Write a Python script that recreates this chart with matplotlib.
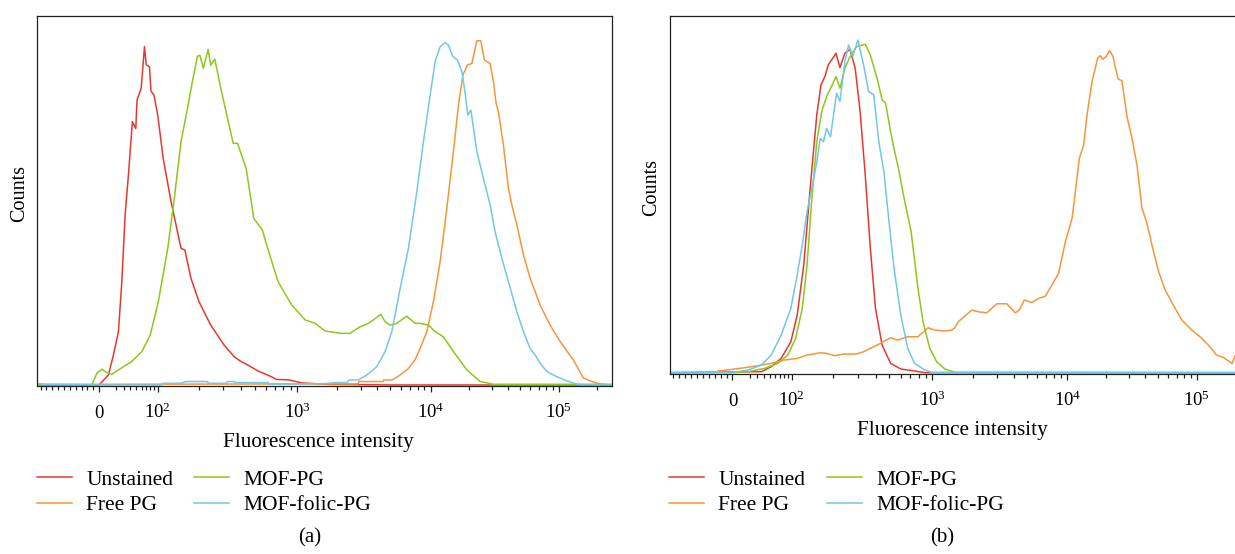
import numpy as np
import matplotlib
matplotlib.use("Agg")
import matplotlib.pyplot as plt
from matplotlib.lines import Line2D

plt.rcParams["font.family"] = ["Liberation Serif", "DejaVu Serif"]
plt.rcParams["mathtext.fontset"] = "stix"

# DATA (fluorescence intensity vs. counts, normalised so the tallest peak is ~100)
series_names = ["Unstained", "Free PG", "MOF-PG", "MOF-folic-PG"]
series_colors = ["#e5392f", "#f7953b", "#8cc81e", "#72c7e8"]

# panel (a)
a_unstained_x = [-106, 0, 1, 10.6, 16.5, 22.8, 27.3, 31.9, 36.8, 43.1, 48.9, 51.2, 59.1, 66, 69.7, 77.6, 81.2, 89.2,
                 100, 110, 126, 149, 159, 176, 201, 244, 304, 359, 401, 448, 527, 658, 714, 866, 1084, 1622,
                 5000, 262144]
a_unstained_y = [0, 0, 0.3, 2.9, 8.7, 15.5, 30, 49.4, 61, 76.5, 74.5, 82.8, 86.2, 98.3, 93.1, 92.4, 85.4, 84.2,
                 78.4, 65.8, 53.2, 39.7, 39.2, 31, 24.2, 17.4, 11.6, 8.2, 6.8, 5.8, 4.1, 2.4, 1.6, 1.5, 0.6, 0.2,
                 0, 0]

a_free_x = [-106, 0, 1000, 2866, 2900, 4413, 4450, 5150, 5918, 6830, 7656, 8350, 9380, 10530, 11880, 13390,
            15070, 16500, 17860, 19410, 21000, 22960, 24660, 26300, 29140, 30940, 32450, 33820, 36980, 40480,
            43030, 47070, 52980, 59730, 71480, 85470, 102400, 129900, 155600, 175500, 210000, 251000, 262144]
a_free_y = [0.2, 0.2, 0.3, 0.3, 1.0, 1.0, 1.45, 1.45, 2.9, 4.8, 7.3, 10.6, 15.5, 24.2, 35.8, 51.3, 67.8, 81.3,
            90, 93, 93.4, 100, 100, 94.4, 93.4, 88.1, 81.8, 79.4, 69.7, 57.1, 52.3, 46.5, 37.8, 31, 23.2, 17.4,
            12.6, 7.3, 2.1, 1.2, 0.3, 0, 0]

a_mof_x = [-106, -12.5, -3.9, 3.0, 8.7, 14.6, 27.3, 41.9, 60.4, 79.4, 101, 119, 133, 149, 166, 180, 196, 204, 216,
           234, 244, 261, 288, 322, 353, 379, 436, 494, 568, 640, 734, 916, 1148, 1365, 1622, 1871, 2100, 2496,
           2720, 2965, 3423, 3730, 4236, 4562, 4972, 5580, 6633, 7656, 8350, 9640, 10860, 12600, 15080, 19180,
           24360, 30940, 262144]
a_mof_y = [0, 0, 3.4, 4.6, 3.6, 3.1, 5.0, 6.8, 9.7, 14.5, 24.2, 39.7, 54.2, 70.7, 80.3, 88.1, 95.5, 95.8, 92,
           97.5, 92.9, 94.7, 86.2, 77.4, 70.2, 70.2, 62.9, 48.4, 45, 37.8, 30, 23.2, 18.9, 17.9, 15.7, 15.3, 15, 15,
           16, 16.9, 17.9, 18.9, 20.5, 18.4, 17.4, 17.9, 20, 17.9, 17.9, 17.4, 15.5, 14, 9.7, 4.4,
           1, 0.2, 0.2]

a_folic_x = [-106, -95, 0, 107, 110, 149, 160, 231, 235, 314, 322, 359, 365, 622, 640, 1622, 1928, 2371, 2450,
             2866, 3329, 3956, 4562, 5130, 5918, 6830, 7890, 8845, 9935, 10860, 11880, 12990, 13790, 14930, 16220,
             17550, 18620, 19540, 20620, 22960, 25840, 29140, 31880, 35940, 40480, 47070, 52980, 59730, 65340,
             71480, 80580, 96400, 115500, 134000, 151000, 262144]
a_folic_y = [0.5, 0.2, 0, 0, 0.5, 0.5, 1.0, 1.0, 0.5, 0.5, 1.0, 1.0, 0.7, 0.7, 0.2, 0.4, 0.7, 0.7, 1.45,
             1.45, 2.9, 5.3, 9.7, 15.5, 28, 39.7, 56.1, 70.7, 84.2, 93.9, 98.3, 99.5, 98.7, 95.4, 94.4,
             91, 84.7, 78.4, 79.9, 67.8, 60, 52.3, 44.5, 36.8, 30, 21.3, 15.5, 10.6, 8.7,
             6.3, 3.9, 2.4, 1.2, 0.4, 0, 0]

# panel (b)
b_unstained_x = [-106, 35.8, 52.1, 72.4, 97.6, 110, 123, 137, 153, 164, 175, 185, 210, 224, 243, 264, 287, 311,
                 338, 367, 399, 444, 509, 600, 748, 882, 262144]
b_unstained_y = [0, 0.3, 1.8, 4.3, 9.3, 17.3, 32.4, 55.4, 77.5, 86.5, 89, 92.5, 96, 91.7, 96, 97.2, 91.5, 78.5,
                 59.4, 37.4, 19.3, 8.3, 2.8, 1.1, 0.5, 0, 0]

b_free_x = [-106, -29.2, -23.6, 0, 14.2, 31, 52.1, 80, 110, 130, 162, 180, 206, 236, 294, 329, 367, 433,
            509, 568, 671, 791, 931, 1042, 1237, 1387, 1466, 1553, 1954, 2188, 2528, 3000, 3563, 4109, 4400,
            4797, 5470, 6124, 6871, 7710, 8636, 9680, 10890, 11540, 12390, 13370, 14210, 15530, 17150, 17990,
            18740, 19910, 21230, 22540, 24620, 26420, 28890, 31580, 34510, 37700, 41190, 44990, 50610, 56980,
            68040, 76680, 91580, 109300, 122800, 142500, 160300, 188000, 197200, 215000]
b_free_y = [0, 0.2, 0.5, 1.0, 1.5, 2.1, 2.8, 3.8, 4.3, 5.3, 6, 5.8, 5.1, 5.6, 5.6, 6.3, 7.3, 8.8,
            10.5, 9.8, 10.8, 10.8, 13.5, 12.8, 12.5, 12.8, 13.5, 15.3, 18.8, 18.3, 18, 20.7, 20.7, 18, 18.8,
            21.8, 21.1, 22.3, 23, 26.4, 29.9, 39.4, 46.4, 54.4, 64.4, 68.4, 77.5, 87.5, 94.5, 95.3,
            94.2, 95, 96.8, 95, 88.3, 87.7, 77, 70.4, 62.4, 49.4, 44.9, 38.4, 30.4, 24.8,
            19.3, 15.8, 12.8, 10.3, 8.3, 5.3, 4.6, 2.8, 4.8, 7]

b_mof_x = [-106, 0, 18.1, 40.8, 65, 89.2, 107, 120, 130, 141, 153, 166, 180, 195, 210, 224, 243, 264, 294,
           338, 367, 409, 444, 470, 509, 538, 584, 633, 709, 791, 859, 958, 1073, 1237, 1466, 262144]
b_mof_y = [0, 0, 0.3, 1.3, 2.8, 5.3, 10.3, 19.3, 32.4, 52.4, 69.4, 78.5, 83, 86, 89, 85.5, 91.5, 95, 98,
           98.7, 95.5, 88.5, 82, 81, 72.4, 67.4, 60.4, 52.4, 42.4, 25.4, 15.3, 7.3, 3.3, 1.1, 0.1, 0]

b_folic_x = [-106, 0, 18.1, 35.8, 52.1, 72.4, 97.6, 110, 120, 130, 141, 153, 162, 171, 180, 192, 212, 224, 243,
             258, 276, 300, 329, 357, 388, 421, 457, 496, 538, 600, 671, 748, 882, 986, 262144]
b_folic_y = [0, 0.1, 0.8, 2.3, 5.3, 11.3, 19.3, 29.4, 38.4, 48.4, 55.4, 63.4, 70.4, 69.4, 73.4, 70.9, 84, 81.5,
             93.5, 98.5, 95, 100, 92.5, 84.5, 83.5, 69.4, 60.4, 45.4, 31.4, 17.3, 7.3, 2.8, 0.8, 0.1, 0]

# axis ticks
major_ticks = [0, 1e2, 1e3, 1e4, 1e5]
major_labels = ["0", r"$\mathregular{10^{2}}$", r"$\mathregular{10^{3}}$",
                r"$\mathregular{10^{4}}$", r"$\mathregular{10^{5}}$"]
minor_ticks = ([-k * 10 for k in range(1, 11)] + [k * 10 for k in range(2, 10)]
               + [k * 10 ** n for n in range(2, 5) for k in range(2, 10)] + [2e5])
x_limits = (-106, 262144)


# BIEXPONENTIAL-LIKE AXIS: linear below zero, arcsinh above, pinned to the decade positions
LN10 = np.log(10)
W_LIN = 40
NEG_SLOPE = 0.586
KNOT_V = np.array([0, 100, 1e3, 1e4, 1e5, 1e7])
KNOT_G = np.arcsinh(KNOT_V / W_LIN) / LN10
KNOT_P = np.array([0, 58.6, 198, 331.4, 459.7, 713.7])


def biex_forward(v):
    v = np.asarray(v, dtype=float)
    g = np.arcsinh(np.clip(v, 0, None) / W_LIN) / LN10
    return np.where(v < 0, v * NEG_SLOPE, np.interp(g, KNOT_G, KNOT_P))


def biex_inverse(p):
    p = np.asarray(p, dtype=float)
    g = np.interp(np.clip(p, 0, None), KNOT_P, KNOT_G)
    return np.where(p < 0, p / NEG_SLOPE, W_LIN * np.sinh(g * LN10))


# FIGURE
W, H = 1235, 554
fig = plt.figure(figsize=(W / 100, H / 100), dpi=100)

ax_a = fig.add_axes([37 / W, 1 - 386 / H, 575 / W, 370 / H])
ax_b = fig.add_axes([669.7 / W, 1 - 374 / H, 580.9 / W, 358 / H])

panels = [
    (ax_a, [(a_unstained_x, a_unstained_y), (a_free_x, a_free_y), (a_mof_x, a_mof_y), (a_folic_x, a_folic_y)],
     (-0.3, 107.2), 370, 0.49),
    (ax_b, [(b_unstained_x, b_unstained_y), (b_free_x, b_free_y), (b_mof_x, b_mof_y), (b_folic_x, b_folic_y)],
     (-0.4, 107.2), 358, 0.486),
]

# drawing order: blue/orange underneath, then green, then red
draw_order = [3, 1, 2, 0]

for ax, data, ylim, ax_h, xl_x in panels:
    ax.set_xscale("function", functions=(biex_forward, biex_inverse))
    for i in draw_order:
        xs, ys = data[i]
        ax.plot(xs, ys, color=series_colors[i], lw=1.1, zorder=2 + i * 0.1)
    ax.set_xlim(*x_limits)
    ax.set_ylim(*ylim)

    ax.set_xticks(major_ticks)
    ax.set_xticklabels(major_labels)
    ax.set_xticks(minor_ticks, minor=True)
    ax.tick_params(axis="x", which="major", direction="out", length=4.3, width=0.9, labelsize=13.5,
                   pad=18.6, color="#222222")
    ax.tick_params(axis="x", which="minor", direction="out", length=2.9, width=0.9, color="#222222")
    for lbl in ax.get_xticklabels():
        lbl.set_verticalalignment("baseline")
    ax.tick_params(axis="y", left=False, labelleft=False)

    for sp in ax.spines.values():
        sp.set_linewidth(0.9)
        sp.set_color("#222222")

    ax.set_xlabel("Fluorescence intensity", fontsize=15.3)
    ax.xaxis.set_label_coords(xl_x, -47 / ax_h)
    ax.set_ylabel("Counts", fontsize=14.5)
    ax.yaxis.set_label_coords(-8 / 575, 0.52)

# LEGENDS (two columns per panel)
handles = [Line2D([], [], color=c, lw=1.1) for c in series_colors]
legend_cols = [
    (37, [0, 1]), (194, [2, 3]),
    (669, [0, 1]), (827, [2, 3]),
]
for x0, idx in legend_cols:
    fig.legend([handles[i] for i in idx], [series_names[i] for i in idx],
               loc="upper left", bbox_to_anchor=(x0 / W, 1 - 469.5 / H), frameon=False,
               borderpad=0, borderaxespad=0, handlelength=1.63, handletextpad=0.65,
               labelspacing=0.27, fontsize=15.5)

fig.text(310 / W, 1 - 538 / H, "(a)", ha="center", va="center", fontsize=15)
fig.text(942 / W, 1 - 538 / H, "(b)", ha="center", va="center", fontsize=15)

fig.savefig("out.png", dpi=100)
